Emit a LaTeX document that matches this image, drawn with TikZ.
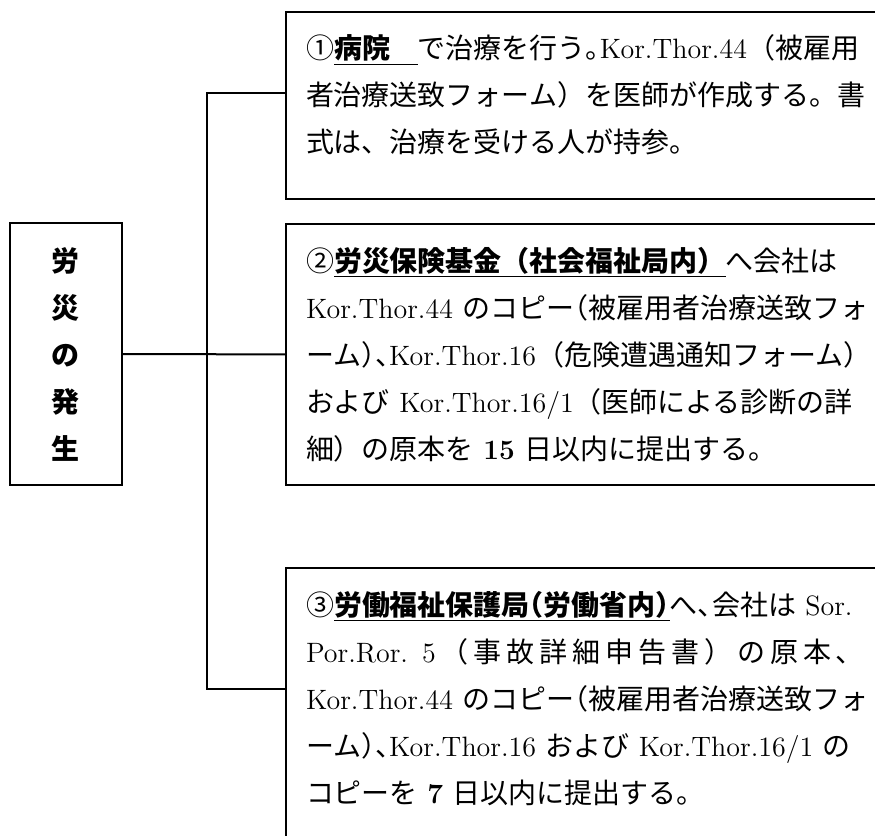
\documentclass[tikz,border=0pt]{standalone}
\usepackage{fontspec}
\usepackage{tikz}
\newfontfamily\jp{Noto Sans CJK JP}
\newfontfamily\jph{Noto Sans CJK JP}[RawFeature=+halt]
\newcommand\lat[1]{{\rmfamily #1}}

\begin{document}
\begin{tikzpicture}[
  x=0.5pt, y=-0.5pt,
  line width=1pt,
  event/.style={draw, rectangle, minimum width=56pt, minimum height=131pt,
                align=center, font=\jp\bfseries\fontsize{14pt}{23.5pt}\selectfont},
  duty/.style={draw, rectangle, anchor=north west, inner xsep=10pt, inner ysep=11.5pt,
               text width=300pt, align=left, font=\jp\fontsize{14pt}{23.5pt}\selectfont}
]
\useasboundingbox (0,0) rectangle (875,836);
\clip (0,0) rectangle (875,836);

\node[event] (accident) at (66,354) {労\\災\\の\\発\\生};

\node[duty] (hospital) at (285,11) {①\underline{\bfseries 病院　}で治療を行う{\jph 。}\lat{Kor.Thor.44}（被雇用\\
者治療送致フォーム）を医師が作成する。書\\
式は、治療を受ける人が持参。\rule[-11.5pt]{0pt}{11.5pt}};

\node[duty] (fund) at (285,223) {②\underline{\bfseries 労災保険基金（社会福祉局内）}へ会社は\\
\lat{Kor.Thor.44} のコピー{\jph （}被雇用者治療送致フォ\\
ーム{\jph ）、}\lat{Kor.Thor.16}（危険遭遇通知フォーム）\\
および \lat{Kor.Thor.16/1}（医師による診断の詳\\
細）の原本を \lat{\bfseries 15} 日以内に提出する。};

\node[duty] (labour) at (285,567) {③\underline{\bfseries 労働福祉保護局{\jph （}労働省内{\jph ）}}へ{\jph 、}会社は \lat{Sor.}\\
\makebox[279pt][s]{\spaceskip=0pt plus 1fil \lat{Por.Ror.} \lat{5} （ 事 故 詳 細 申 告 書 ） の 原 本 、}\\
\lat{Kor.Thor.44} のコピー{\jph （}被雇用者治療送致フォ\\
ーム{\jph ）、}\lat{Kor.Thor.16} および \lat{Kor.Thor.16/1} の\\
コピーを \lat{\bfseries 7} 日以内に提出する。\rule[-16pt]{0pt}{16pt}};

\coordinate (split) at (207,354);

\draw (accident.east) -- (fund.west);
\draw ([yshift=-41pt]hospital.north west) -| (split) |- ([yshift=-61pt]labour.north west);

\end{tikzpicture}
\end{document}
